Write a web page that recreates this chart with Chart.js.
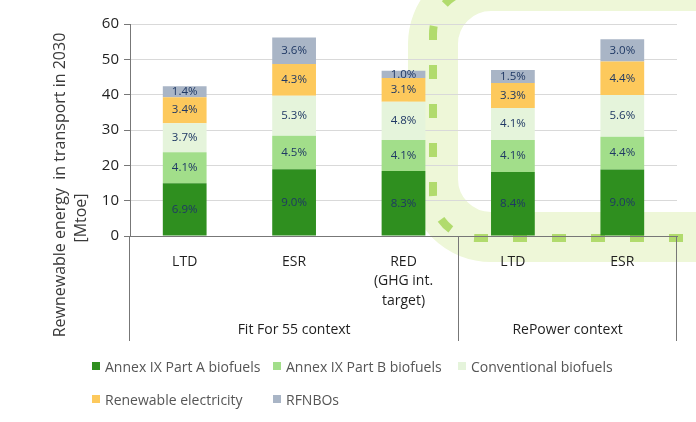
<!DOCTYPE html>
<html lang="en">
<head>
    <meta charset="UTF-8">
    <title>Renewable energy in transport in 2030</title>
    <script src="https://cdn.jsdelivr.net/npm/chart.js"></script>
    <style>
        body { margin: 0; background: #fff; }
        #wrap { position: relative; width: 696px; height: 422px; }
        #legend { position: absolute; left: 92px; top: 356px; display: grid;
                  grid-template-columns: 181px 185px auto; row-gap: 13px;
                  font: 14px "Open Sans", sans-serif; color: #555; }
        #legend span.item { display: flex; align-items: center; white-space: nowrap; height: 20px; }
        #legend i { display: inline-block; width: 8px; height: 8px; margin-right: 5px; }
    </style>
</head>
<body>
<div id="wrap">
    <canvas id="chart" width="696" height="422"></canvas>
    <div id="legend"></div>
</div>

<script>
    // categories and groups
    const categories = [['LTD'], ['ESR'], ['RED', '(GHG int.', 'target)'], ['LTD'], ['ESR']];
    const groupNames = ['Fit For 55 context', 'RePower context'];
    const groupSpans = [[0, 2], [3, 4]];

    // Mtoe per segment
    const partA        = [14.9, 18.9, 18.4, 18.1, 18.8];
    const partB        = [8.8, 9.5, 8.8, 9.1, 9.3];
    const conventional = [8.2, 11.3, 10.8, 9.0, 11.8];
    const electricity  = [7.4, 9.0, 6.7, 7.1, 9.5];
    const rfnbo        = [3.1, 7.5, 2.1, 3.7, 6.3];

    // share labels written in each segment
    const partALabels = ['6.9%', '9.0%', '8.3%', '8.4%', '9.0%'];
    const partBLabels = ['4.1%', '4.5%', '4.1%', '4.1%', '4.4%'];
    const convLabels  = ['3.7%', '5.3%', '4.8%', '4.1%', '5.6%'];
    const elecLabels  = ['3.4%', '4.3%', '3.1%', '3.3%', '4.4%'];
    const rfnboLabels = ['1.4%', '3.6%', '1.0%', '1.5%', '3.0%'];

    const yTicks = [0, 10, 20, 30, 40, 50, 60];

    const FONT = '"Open Sans", sans-serif';

    function roundRect(ctx, x, y, w, h, r) {
        ctx.beginPath();
        ctx.moveTo(x + r, y);
        ctx.lineTo(x + w - r, y);
        ctx.arcTo(x + w, y, x + w, y + r, r);
        ctx.lineTo(x + w, y + h - r);
        ctx.arcTo(x + w, y + h, x + w - r, y + h, r);
        ctx.lineTo(x + r, y + h);
        ctx.arcTo(x, y + h, x, y + h - r, r);
        ctx.lineTo(x, y + r);
        ctx.arcTo(x, y, x + r, y, r);
        ctx.closePath();
    }

    // pale green background ribbon with dashed line
    const decor = {
        id: 'decor',
        beforeDraw(chart) {
            const ctx = chart.ctx;
            ctx.save();
            roundRect(ctx, 433, -14, 900, 251, 58);
            ctx.strokeStyle = '#eef7d8';
            ctx.lineWidth = 50;
            ctx.stroke();
            roundRect(ctx, 433, -10, 900, 248, 44);
            ctx.setLineDash([14, 25]);
            ctx.strokeStyle = 'rgba(166, 214, 90, 0.85)';
            ctx.lineWidth = 8;
            ctx.stroke();
            ctx.restore();
        }
    };

    // percentage labels inside the segments
    const segLabels = {
        id: 'segLabels',
        afterDatasetsDraw(chart) {
            const ctx = chart.ctx;
            ctx.save();
            ctx.font = '11.5px ' + FONT;
            ctx.fillStyle = '#1f3864';
            ctx.textAlign = 'center';
            ctx.textBaseline = 'middle';
            chart.data.datasets.forEach((ds, i) => {
                chart.getDatasetMeta(i).data.forEach((bar, j) => {
                    const p = bar.getProps(['x', 'y', 'base'], true);
                    ctx.fillText(ds.pct[j], p.x, (p.y + p.base) / 2);
                });
            });
            ctx.restore();
        }
    };

    // group boxes under the x axis, axis title
    const groupBoxes = {
        id: 'groupBoxes',
        afterDraw(chart) {
            const ctx = chart.ctx;
            const xs = chart.scales.x;
            const area = chart.chartArea;
            const half = (xs.getPixelForValue(1) - xs.getPixelForValue(0)) / 2;
            const bottom = 341;
            ctx.save();
            ctx.strokeStyle = '#777';
            ctx.lineWidth = 1;
            ctx.font = '14px ' + FONT;
            ctx.fillStyle = '#1f1f1f';
            ctx.textAlign = 'center';
            ctx.textBaseline = 'middle';
            const edges = [];
            groupSpans.forEach((s, g) => {
                const l = xs.getPixelForValue(s[0]) - half;
                const r = xs.getPixelForValue(s[1]) + half;
                edges.push(Math.min(Math.floor(l), Math.floor(area.right) - 1),
                           Math.min(Math.floor(r), Math.floor(area.right) - 1));
                ctx.fillText(groupNames[g], (l + r) / 2, 330);
            });
            [...new Set(edges)].forEach(x => {
                ctx.beginPath();
                ctx.moveTo(x + 0.5, area.bottom);
                ctx.lineTo(x + 0.5, bottom);
                ctx.stroke();
            });

            // y axis title
            ctx.fillStyle = '#3a3a3a';
            ctx.font = '16px ' + FONT;
            ctx.translate(60, 185);
            ctx.rotate(-Math.PI / 2);
            ctx.fillText('Rewnewable energy  in transport in 2030', 0, 0);
            ctx.fillText('[Mtoe]', -33, 21);
            ctx.restore();
        }
    };

    const datasets = [
        { label: 'Annex IX Part A biofuels', data: partA, pct: partALabels, backgroundColor: '#2f8f1f' },
        { label: 'Annex IX Part B biofuels', data: partB, pct: partBLabels, backgroundColor: '#a2de8a' },
        { label: 'Conventional biofuels', data: conventional, pct: convLabels, backgroundColor: '#e5f4db' },
        { label: 'Renewable electricity', data: electricity, pct: elecLabels, backgroundColor: '#fdc95c' },
        { label: 'RFNBOs', data: rfnbo, pct: rfnboLabels, backgroundColor: '#a9b5c6' }
    ];

    const chart = new Chart(document.getElementById('chart'), {
        type: 'bar',
        data: { labels: categories, datasets: datasets },
        plugins: [decor, segLabels, groupBoxes],
        options: {
            responsive: false,
            animation: false,
            devicePixelRatio: 1,
            layout: { padding: { top: 24, right: 19, left: 0, bottom: 0 } },
            datasets: { bar: { categoryPercentage: 1, barPercentage: 0.4 } },
            plugins: { legend: { display: false }, tooltip: { enabled: false } },
            scales: {
                x: {
                    stacked: true,
                    grid: { display: false, drawTicks: false },
                    border: { display: true, color: '#777' },
                    ticks: { padding: 16, color: '#1f1f1f', maxRotation: 0,
                             font: { family: FONT, size: 14, lineHeight: 1.4 } },
                    afterFit(s) { s.height = 186; }
                },
                y: {
                    stacked: true,
                    min: 0, max: 60,
                    afterBuildTicks(s) { s.ticks = yTicks.map(v => ({ value: v })); },
                    grid: { color: '#d9d9d9', tickColor: '#777', tickLength: 6 },
                    border: { display: true, color: '#777' },
                    ticks: { padding: 5, color: '#1f1f1f', font: { family: FONT, size: 15 } },
                    afterFit(s) { s.width = 130; }
                }
            }
        }
    });

    // legend built from the datasets
    const legend = document.getElementById('legend');
    datasets.forEach(ds => {
        const item = document.createElement('span');
        item.className = 'item';
        item.innerHTML = '<i style="background:' + ds.backgroundColor + '"></i>' + ds.label;
        legend.appendChild(item);
    });
</script>
</body>
</html>
